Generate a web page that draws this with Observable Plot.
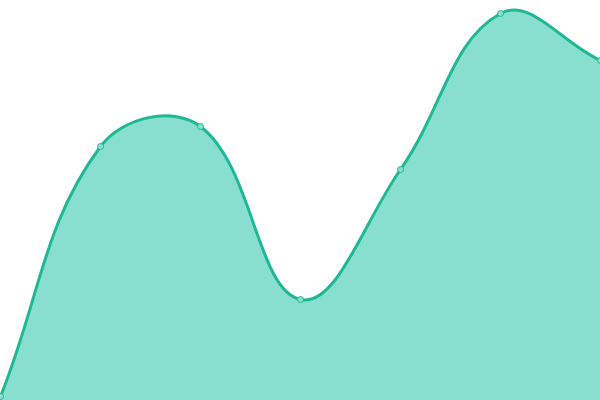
<!DOCTYPE html>
<html><head><meta charset="utf-8">
<script src="https://cdn.jsdelivr.net/npm/d3@7"></script>
<script src="https://cdn.jsdelivr.net/npm/@observablehq/plot@0.6"></script>
<style>body{margin:0;background:#fff}</style>
</head><body><div id="chart"></div>
<script>
const xs = [0, 1, 2, 3, 4, 5, 6];
const values = [4, 254, 274, 101, 231, 387, 340];
const data = xs.map((x, i) => ({x, y: values[i]}));

// Spline curve (tension-based, like Chart.js "tension: 0.4")
function splineCurve(tension) {
  function Curve(context) { this._context = context; }
  Curve.prototype = {
    areaStart() { this._line = 0; },
    areaEnd() { this._line = NaN; },
    lineStart() { this._x = []; this._y = []; },
    point(x, y) { this._x.push(+x); this._y.push(+y); },
    lineEnd() {
      const c = this._context, X = this._x, Y = this._y, n = X.length;
      if (n) {
        this._line ? c.lineTo(X[0], Y[0]) : c.moveTo(X[0], Y[0]);
        if (n === 2) c.lineTo(X[1], Y[1]);
        else if (n > 2) {
          const cp = [];
          for (let i = 0; i < n; ++i) {
            const pi = i > 0 ? i - 1 : i, ni = i < n - 1 ? i + 1 : i;
            const d01 = Math.hypot(X[i] - X[pi], Y[i] - Y[pi]);
            const d12 = Math.hypot(X[ni] - X[i], Y[ni] - Y[i]);
            let s01 = d01 / (d01 + d12), s12 = d12 / (d01 + d12);
            if (!isFinite(s01)) s01 = 0; if (!isFinite(s12)) s12 = 0;
            const fa = tension * s01, fb = tension * s12;
            const vx = X[ni] - X[pi], vy = Y[ni] - Y[pi];
            cp.push({px: X[i] - fa * vx, py: Y[i] - fa * vy, nx: X[i] + fb * vx, ny: Y[i] + fb * vy});
          }
          for (let i = 1; i < n; ++i) {
            c.bezierCurveTo(cp[i - 1].nx, cp[i - 1].ny, cp[i].px, cp[i].py, X[i], Y[i]);
          }
        }
      }
      if (this._line || (this._line !== 0 && n === 1)) c.closePath();
      this._line = 1 - this._line;
    }
  };
  return (context) => new Curve(context);
}
const curve = splineCurve(0.4);

const plot = Plot.plot({
  width: 600, height: 400,
  margin: 0,
  x: {domain: [0, 6], axis: null},
  y: {domain: [0, 400], axis: null},
  marks: [
    Plot.areaY(data, {x: "x", y: "y", curve, fill: "#88dfcf"}),
    Plot.lineY(data, {x: "x", y: "y", curve, stroke: "#1fb894", strokeWidth: 3}),
    Plot.dot(data, {x: "x", y: "y", r: 3, fill: "#88dfcf", stroke: "#1fb894", strokeWidth: 1})
  ]
});
document.getElementById("chart").appendChild(plot);
</script></body></html>
